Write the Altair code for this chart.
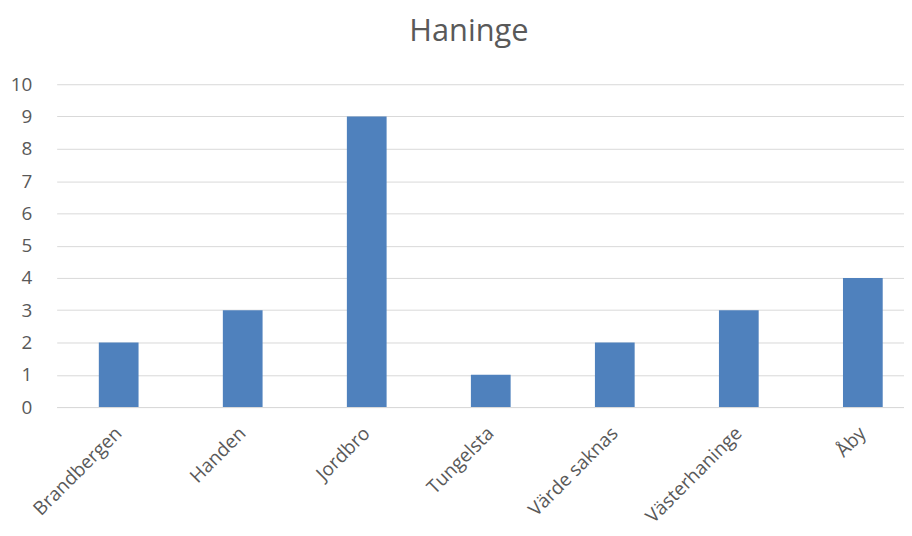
import altair as alt
import pandas as pd

categories = ["Brandbergen", "Handen", "Jordbro", "Tungelsta", "Värde saknas", "Västerhaninge", "Åby"]
values = [2, 3, 9, 1, 2, 3, 4]

df = pd.DataFrame({"Område": categories, "Antal": values})

FONT = "Open Sans"
GRAY = "#595959"

chart = alt.Chart(df).mark_bar(color="#4f81bd", width=40).encode(
    x=alt.X("Område:N", sort=categories,
            scale=alt.Scale(paddingInner=0, paddingOuter=0, range=[1, 875]),
            axis=alt.Axis(title=None, labelAngle=-45, labelAlign="right", labelBaseline="middle",
                          labelFontSize=19, labelColor=GRAY, labelFont=FONT, labelPadding=23,
                          ticks=False, domainColor="#d9d9d9", domainWidth=1)),
    y=alt.Y("Antal:Q", scale=alt.Scale(domain=[0, 10]),
            axis=alt.Axis(title=None, values=list(range(0, 11)), labelFontSize=19,
                          labelColor=GRAY, labelFont=FONT, labelPadding=24, ticks=False,
                          domain=False, gridColor="#d9d9d9", gridWidth=1)),
).properties(
    width=854, height=325,
    title=alt.TitleParams("Haninge", fontSize=31, font=FONT, color=GRAY, fontWeight="normal",
                          anchor="middle", offset=28, dx=-11),
    autosize=alt.AutoSizeParams(type="none"),
    padding={"left": 48, "top": 75, "right": 0, "bottom": 120},
).configure_view(stroke=None)

chart.save("out.html", embed_options={"renderer": "svg", "actions": False})
